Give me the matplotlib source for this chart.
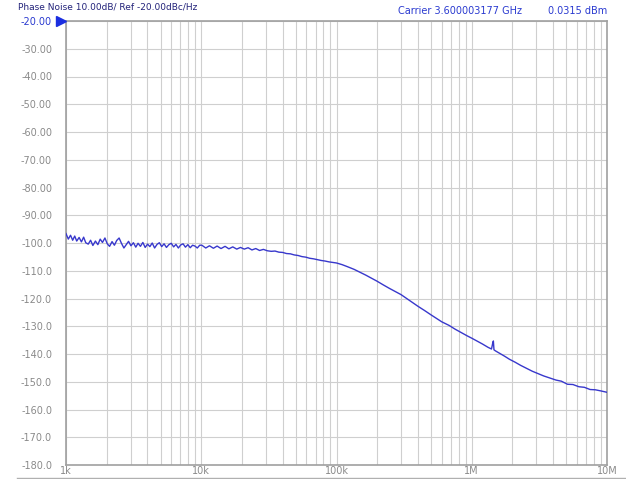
import numpy as np
import matplotlib
matplotlib.use("Agg")
import matplotlib.pyplot as plt
from matplotlib.lines import Line2D

# ==============================
# DATA
# ==============================
FREQ_KHZ = [
    1.00, 1.04, 1.08, 1.12, 1.16, 1.20, 1.25, 1.30, 1.35, 1.40,
    1.46, 1.52, 1.58, 1.65, 1.72, 1.79, 1.86, 1.94, 2.02, 2.10,
    2.19, 2.28, 2.37, 2.47, 2.57, 2.68, 2.79, 2.90, 3.02, 3.15,
    3.28, 3.41, 3.55, 3.70, 3.85, 4.01, 4.17, 4.34, 4.52, 4.71,
    4.90, 5.10, 5.31, 5.53, 5.76, 6.00, 6.25, 6.50, 6.77, 7.05,
    7.34, 7.64, 7.96, 8.29, 8.63, 8.98, 9.35, 9.74,
    10.1, 10.8, 11.5, 12.3, 13.1, 14.0, 15.0, 16.0, 17.1, 18.3,
    19.5, 20.8, 22.2, 23.7, 25.3, 27.0, 28.8, 30.8, 32.9, 35.1,
    37.5, 40.0, 42.7, 45.6, 48.7, 52.0, 55.5, 59.3, 63.3, 67.6,
    72.2, 77.1, 82.3, 87.9, 93.9,
    100, 110, 120, 135, 150, 165, 180, 200, 220, 245,
    270, 300, 330, 365, 400, 450, 500, 550, 600, 680,
    750, 830, 920, 1000, 1100, 1200, 1320, 1400, 1430, 1445,
    1460, 1500, 1600, 1750, 1900, 2100, 2300, 2500, 2800, 3100,
    3400, 3800, 4200, 4600, 5100, 5600, 6200, 6800, 7500, 8200,
    9000, 10000,
]

PN_DBC = [
    -96.6, -98.6, -97.2, -99.0, -97.5, -99.3, -98.0, -99.6, -97.9, -99.9,
    -100.4, -99.0, -100.9, -99.3, -100.6, -98.6, -99.8, -98.2, -100.3, -101.2,
    -99.5, -100.8, -99.1, -98.2, -100.1, -101.8, -100.6, -99.4, -101.0, -99.9,
    -101.5, -100.1, -101.2, -99.8, -101.6, -100.4, -101.3, -100.0, -101.8, -100.5,
    -99.9, -101.3, -100.3, -101.6, -100.6, -100.1, -101.4, -100.5, -101.8, -100.7,
    -100.3, -101.5, -100.6, -101.7, -100.8, -101.1, -101.8, -100.8,
    -100.8, -101.8, -101.0, -101.9, -101.1, -102.0, -101.2, -102.1, -101.4, -102.2,
    -101.6, -102.2, -101.7, -102.5, -102.0, -102.7, -102.3, -102.8, -103.0, -102.9,
    -103.3, -103.4, -103.8, -103.9, -104.3, -104.5, -104.9, -105.1, -105.5, -105.7,
    -106.0, -106.3, -106.5, -106.8, -107.0,
    -107.2, -107.8, -108.5, -109.5, -110.6, -111.6, -112.6, -113.8, -115.0, -116.3,
    -117.4, -118.6, -120.0, -121.5, -122.8, -124.4, -125.9, -127.2, -128.4, -129.7,
    -131.0, -132.2, -133.4, -134.3, -135.4, -136.4, -137.6, -138.2, -136.0, -135.3,
    -138.5, -138.9, -139.7, -140.8, -141.9, -143.0, -144.1, -145.0, -146.2, -147.1,
    -147.9, -148.7, -149.4, -149.8, -150.9, -151.0, -151.8, -152.0, -152.8, -152.9,
    -153.3, -153.8,
]

Y_TICKS = [-20, -30, -40, -50, -60, -70, -80, -90, -100, -110,
           -120, -130, -140, -150, -160, -170, -180]
Y_LABELS = ["-20.00", "-30.00", "-40.00", "-50.00", "-60.00", "-70.00",
            "-80.00", "-90.00", "-100.0", "-110.0", "-120.0", "-130.0",
            "-140.0", "-150.0", "-160.0", "-170.0", "-180.0"]
X_TICKS = [1e3, 1e4, 1e5, 1e6, 1e7]
X_LABELS = ["1k", "10k", "100k", "1M", "10M"]

TITLE_LEFT = "Phase Noise 10.00dB/ Ref -20.00dBc/Hz"
CARRIER_TXT = "Carrier 3.600003177 GHz"
POWER_TXT = "0.0315 dBm"

# ==============================
# STYLE
# ==============================
W, H = 626, 479
GRID_C = "#cfcfcf"
SPINE_C = "#a0a0a0"
LABEL_C = "#8a8a8a"
TRACE_C = "#3838cc"
HEAD_C = "#2a3ad0"

fig = plt.figure(figsize=(W/100, H/100), dpi=100)
ax = fig.add_axes([66/W, 1-465/H, (607-66)/W, (465-21)/H])

f = np.array(FREQ_KHZ)*1e3
ax.semilogx(f, PN_DBC, color=TRACE_C, lw=1.0, zorder=3)

ax.set_xlim(1e3, 1e7)
ax.set_ylim(-180, -20)
ax.set_yticks(Y_TICKS)
ax.set_yticklabels(Y_LABELS)
ax.set_xticks(X_TICKS)
ax.set_xticklabels(X_LABELS)
ax.xaxis.set_minor_locator(matplotlib.ticker.LogLocator(base=10, subs=np.arange(2, 10)))
ax.xaxis.set_minor_formatter(matplotlib.ticker.NullFormatter())

ax.grid(True, which="both", axis="x", color=GRID_C, lw=0.8)
ax.grid(True, which="major", axis="y", color=GRID_C, lw=0.8)
ax.tick_params(which="both", length=0)
ax.tick_params(axis="y", labelsize=7, labelcolor=LABEL_C, pad=10)
ax.tick_params(axis="x", labelsize=7, labelcolor=LABEL_C, pad=1)
ax.get_yticklabels()[0].set_color(HEAD_C)
for s in ax.spines.values():
    s.set_color(SPINE_C)
    s.set_linewidth(1.2)

# reference marker
ax.plot([-0.009], [1.0], marker=">", ms=7, color="#1a2ee0",
        transform=ax.transAxes, clip_on=False, zorder=5)

# header texts
fig.text(18/W, 1-9/H, TITLE_LEFT, color="#23237a", fontsize=6.5,
         ha="left", va="baseline")
fig.text(522/W, 1-14/H, CARRIER_TXT, color=HEAD_C, fontsize=7,
         ha="right", va="baseline")
fig.text(607/W, 1-14/H, POWER_TXT, color=HEAD_C, fontsize=7,
         ha="right", va="baseline")

# bottom frame line
fig.add_artist(Line2D([17/W, 1], [1-478/H, 1-478/H], color="#b0b0b0", lw=1.0))

fig.savefig("out.png", dpi=100)
